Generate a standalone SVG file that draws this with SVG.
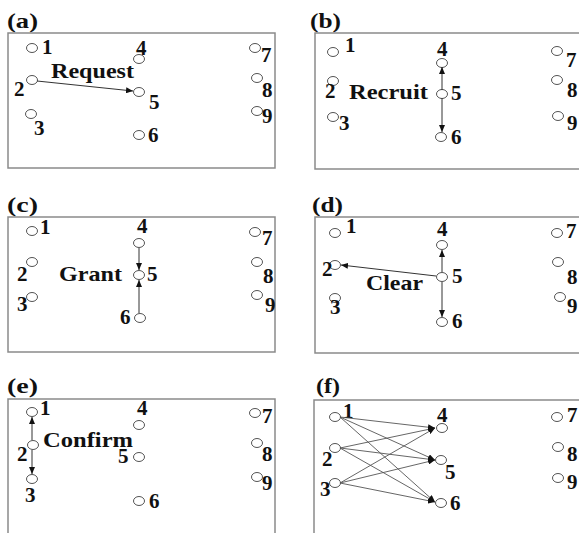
<svg xmlns="http://www.w3.org/2000/svg" width="579" height="533" viewBox="0 0 579 533">
<style>
.bg{fill:#fff}
.box{fill:none;stroke:#8a8a8a;stroke-width:1.5}
.n ellipse{fill:#fff;stroke:#555;stroke-width:1}
.t{font-family:"Times New Roman","Liberation Serif",serif;font-weight:bold;font-size:21px;fill:#111}
.h{font-family:"Times New Roman","Liberation Serif",serif;font-weight:bold;font-size:22px;fill:#111}
.e{fill:none;stroke:#333;stroke-width:1;marker-end:url(#ah)}
.f{fill:none;stroke:#555;stroke-width:0.9;marker-end:url(#ah)}
</style>
<defs>
<marker id="ah" markerUnits="userSpaceOnUse" markerWidth="7" markerHeight="6" refX="7" refY="3" orient="auto">
<path d="M0,0 L7,3 L0,6 z" fill="#111"/>
</marker>
</defs>
<rect class="bg" x="0" y="0" width="579" height="533"/>

<!-- Panel (a) -->
<g id="panel-a">
<text class="h" x="7" y="28" textLength="31" lengthAdjust="spacingAndGlyphs">(a)</text>
<rect class="box" x="8" y="33" width="267" height="135"/>
<g id="a-n1" class="n"><ellipse cx="32" cy="48" rx="5.5" ry="4.5"/><text class="t" x="42" y="54">1</text></g>
<g id="a-n2" class="n"><ellipse cx="32" cy="80" rx="5.5" ry="4.5"/><text class="t" x="14" y="96">2</text></g>
<g id="a-n3" class="n"><ellipse cx="31" cy="114" rx="5.5" ry="4.5"/><text class="t" x="34" y="135">3</text></g>
<g id="a-n4" class="n"><ellipse cx="139" cy="59" rx="5.5" ry="4.5"/><text class="t" x="136" y="55">4</text></g>
<g id="a-n5" class="n"><ellipse cx="139" cy="92" rx="5.5" ry="4.5"/><text class="t" x="149" y="109">5</text></g>
<g id="a-n6" class="n"><ellipse cx="139" cy="135" rx="5.5" ry="4.5"/><text class="t" x="148" y="142">6</text></g>
<g id="a-n7" class="n"><ellipse cx="255" cy="48" rx="5.5" ry="4.5"/><text class="t" x="261" y="62">7</text></g>
<g id="a-n8" class="n"><ellipse cx="257" cy="78" rx="5.5" ry="4.5"/><text class="t" x="262" y="97">8</text></g>
<g id="a-n9" class="n"><ellipse cx="257" cy="111" rx="5.5" ry="4.5"/><text class="t" x="262" y="123">9</text></g>
<text class="t" x="51" y="78" textLength="83" lengthAdjust="spacingAndGlyphs">Request</text>
<g id="a-edges"><line class="e" x1="37" y1="81" x2="133" y2="91"/></g>
</g>

<!-- Panel (b) -->
<g id="panel-b">
<text class="h" x="310" y="28" textLength="31" lengthAdjust="spacingAndGlyphs">(b)</text>
<rect class="box" x="315" y="33" width="280" height="136"/>
<g id="b-n1" class="n"><ellipse cx="333" cy="52" rx="5.5" ry="4.5"/><text class="t" x="345" y="52">1</text></g>
<g id="b-n2" class="n"><ellipse cx="333" cy="81" rx="5.5" ry="4.5"/><text class="t" x="325" y="98">2</text></g>
<g id="b-n3" class="n"><ellipse cx="333" cy="117" rx="5.5" ry="4.5"/><text class="t" x="339" y="130">3</text></g>
<g id="b-n4" class="n"><ellipse cx="442" cy="63" rx="5.5" ry="4.5"/><text class="t" x="437" y="56">4</text></g>
<g id="b-n5" class="n"><ellipse cx="442" cy="94" rx="5.5" ry="4.5"/><text class="t" x="451" y="100">5</text></g>
<g id="b-n6" class="n"><ellipse cx="441" cy="137" rx="5.5" ry="4.5"/><text class="t" x="451" y="144">6</text></g>
<g id="b-n7" class="n"><ellipse cx="557" cy="51" rx="5.5" ry="4.5"/><text class="t" x="566" y="67">7</text></g>
<g id="b-n8" class="n"><ellipse cx="557" cy="80" rx="5.5" ry="4.5"/><text class="t" x="567" y="97">8</text></g>
<g id="b-n9" class="n"><ellipse cx="558" cy="116" rx="5.5" ry="4.5"/><text class="t" x="567" y="130">9</text></g>
<text class="t" x="349" y="99" textLength="79" lengthAdjust="spacingAndGlyphs">Recruit</text>
<g id="b-edges">
<line class="e" x1="442" y1="90" x2="442" y2="67"/>
<line class="e" x1="442" y1="98" x2="442" y2="132"/>
</g>
</g>

<!-- Panel (c) -->
<g id="panel-c">
<text class="h" x="7" y="212" textLength="31" lengthAdjust="spacingAndGlyphs">(c)</text>
<rect class="box" x="8" y="217" width="267" height="135"/>
<g id="c-n1" class="n"><ellipse cx="32" cy="231" rx="5.5" ry="4.5"/><text class="t" x="40" y="234">1</text></g>
<g id="c-n2" class="n"><ellipse cx="32" cy="262" rx="5.5" ry="4.5"/><text class="t" x="17" y="281">2</text></g>
<g id="c-n3" class="n"><ellipse cx="32" cy="297" rx="5.5" ry="4.5"/><text class="t" x="17" y="311">3</text></g>
<g id="c-n4" class="n"><ellipse cx="139" cy="243" rx="5.5" ry="4.5"/><text class="t" x="137" y="233">4</text></g>
<g id="c-n5" class="n"><ellipse cx="139" cy="275" rx="5.5" ry="4.5"/><text class="t" x="147" y="281">5</text></g>
<g id="c-n6" class="n"><ellipse cx="140" cy="318" rx="5.5" ry="4.5"/><text class="t" x="120" y="324">6</text></g>
<g id="c-n7" class="n"><ellipse cx="255" cy="232" rx="5.5" ry="4.5"/><text class="t" x="262" y="245">7</text></g>
<g id="c-n8" class="n"><ellipse cx="257" cy="262" rx="5.5" ry="4.5"/><text class="t" x="263" y="283">8</text></g>
<g id="c-n9" class="n"><ellipse cx="257" cy="295" rx="5.5" ry="4.5"/><text class="t" x="265" y="312">9</text></g>
<text class="t" x="59" y="281" textLength="63" lengthAdjust="spacingAndGlyphs">Grant</text>
<g id="c-edges">
<line class="e" x1="139" y1="248" x2="139" y2="270"/>
<line class="e" x1="139" y1="313" x2="139" y2="280"/>
</g>
</g>

<!-- Panel (d) -->
<g id="panel-d">
<text class="h" x="312" y="212" textLength="31" lengthAdjust="spacingAndGlyphs">(d)</text>
<rect class="box" x="315" y="217" width="280" height="136"/>
<g id="d-n1" class="n"><ellipse cx="335" cy="233" rx="5.5" ry="4.5"/><text class="t" x="346" y="233">1</text></g>
<g id="d-n2" class="n"><ellipse cx="335" cy="265" rx="5.5" ry="4.5"/><text class="t" x="322" y="276">2</text></g>
<g id="d-n3" class="n"><ellipse cx="335" cy="298" rx="5.5" ry="4.5"/><text class="t" x="330" y="314">3</text></g>
<g id="d-n4" class="n"><ellipse cx="442" cy="245" rx="5.5" ry="4.5"/><text class="t" x="437" y="236">4</text></g>
<g id="d-n5" class="n"><ellipse cx="442" cy="277" rx="5.5" ry="4.5"/><text class="t" x="452" y="283">5</text></g>
<g id="d-n6" class="n"><ellipse cx="442" cy="322" rx="5.5" ry="4.5"/><text class="t" x="452" y="328">6</text></g>
<g id="d-n7" class="n"><ellipse cx="557" cy="233" rx="5.5" ry="4.5"/><text class="t" x="566" y="238">7</text></g>
<g id="d-n8" class="n"><ellipse cx="558" cy="262" rx="5.5" ry="4.5"/><text class="t" x="567" y="284">8</text></g>
<g id="d-n9" class="n"><ellipse cx="560" cy="297" rx="5.5" ry="4.5"/><text class="t" x="567" y="313">9</text></g>
<text class="t" x="366" y="290" textLength="57" lengthAdjust="spacingAndGlyphs">Clear</text>
<g id="d-edges">
<line class="e" x1="436" y1="276" x2="341" y2="265"/>
<line class="e" x1="442" y1="272" x2="442" y2="250"/>
<line class="e" x1="442" y1="282" x2="442" y2="317"/>
</g>
</g>

<!-- Panel (e) -->
<g id="panel-e">
<text class="h" x="7" y="393" textLength="31" lengthAdjust="spacingAndGlyphs">(e)</text>
<path class="box" d="M8,540 V399 H275 V540"/>
<g id="e-n1" class="n"><ellipse cx="32" cy="412" rx="5.5" ry="4.5"/><text class="t" x="40" y="415">1</text></g>
<g id="e-n2" class="n"><ellipse cx="33" cy="445" rx="5.5" ry="4.5"/><text class="t" x="17" y="461">2</text></g>
<g id="e-n3" class="n"><ellipse cx="32" cy="479" rx="5.5" ry="4.5"/><text class="t" x="25" y="502">3</text></g>
<g id="e-n4" class="n"><ellipse cx="139" cy="425" rx="5.5" ry="4.5"/><text class="t" x="137" y="415">4</text></g>
<g id="e-n5" class="n"><ellipse cx="139" cy="457" rx="5.5" ry="4.5"/><text class="t" x="118" y="463">5</text></g>
<g id="e-n6" class="n"><ellipse cx="139" cy="501" rx="5.5" ry="4.5"/><text class="t" x="149" y="508">6</text></g>
<g id="e-n7" class="n"><ellipse cx="255" cy="413" rx="5.5" ry="4.5"/><text class="t" x="262" y="423">7</text></g>
<g id="e-n8" class="n"><ellipse cx="257" cy="443" rx="5.5" ry="4.5"/><text class="t" x="262" y="461">8</text></g>
<g id="e-n9" class="n"><ellipse cx="257" cy="477" rx="5.5" ry="4.5"/><text class="t" x="262" y="490">9</text></g>
<text class="t" x="43" y="447" textLength="90" lengthAdjust="spacingAndGlyphs">Confirm</text>
<g id="e-edges">
<line class="e" x1="32" y1="440" x2="32" y2="417"/>
<line class="e" x1="32" y1="450" x2="32" y2="474"/>
</g>
</g>

<!-- Panel (f) -->
<g id="panel-f">
<text class="h" x="316" y="393" textLength="24" lengthAdjust="spacingAndGlyphs">(f)</text>
<path class="box" d="M314,540 V400 H600"/>
<g id="f-n1" class="n"><ellipse cx="335" cy="417" rx="5.5" ry="4.5"/><text class="t" x="343" y="418">1</text></g>
<g id="f-n2" class="n"><ellipse cx="335" cy="448" rx="5.5" ry="4.5"/><text class="t" x="322" y="466">2</text></g>
<g id="f-n3" class="n"><ellipse cx="335" cy="483" rx="5.5" ry="4.5"/><text class="t" x="320" y="496">3</text></g>
<g id="f-n4" class="n"><ellipse cx="442" cy="428" rx="5.5" ry="4.5"/><text class="t" x="437" y="422">4</text></g>
<g id="f-n5" class="n"><ellipse cx="441" cy="460" rx="5.5" ry="4.5"/><text class="t" x="445" y="479">5</text></g>
<g id="f-n6" class="n"><ellipse cx="441" cy="503" rx="5.5" ry="4.5"/><text class="t" x="450" y="510">6</text></g>
<g id="f-n7" class="n"><ellipse cx="557" cy="417" rx="5.5" ry="4.5"/><text class="t" x="567" y="422">7</text></g>
<g id="f-n8" class="n"><ellipse cx="558" cy="447" rx="5.5" ry="4.5"/><text class="t" x="567" y="461">8</text></g>
<g id="f-n9" class="n"><ellipse cx="558" cy="478" rx="5.5" ry="4.5"/><text class="t" x="567" y="489">9</text></g>
<g id="f-edges">
<line class="f" x1="340" y1="417" x2="435" y2="428"/>
<line class="f" x1="340" y1="417" x2="435" y2="460"/>
<line class="f" x1="340" y1="417" x2="435" y2="502"/>
<line class="f" x1="340" y1="448" x2="435" y2="428"/>
<line class="f" x1="340" y1="448" x2="435" y2="460"/>
<line class="f" x1="340" y1="448" x2="435" y2="502"/>
<line class="f" x1="340" y1="483" x2="435" y2="428"/>
<line class="f" x1="340" y1="483" x2="435" y2="460"/>
<line class="f" x1="340" y1="483" x2="435" y2="502"/>
</g>
</g>
</svg>
